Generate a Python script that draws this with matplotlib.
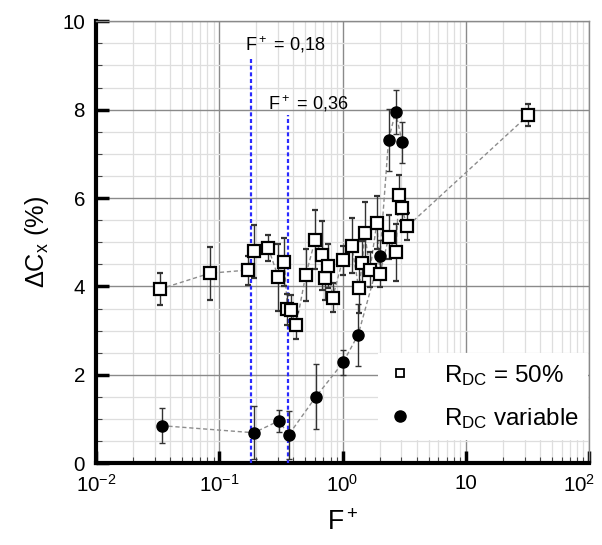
import matplotlib
matplotlib.use("Agg")
import matplotlib.pyplot as plt
import matplotlib.transforms as mtransforms
from matplotlib import font_manager as fm
from matplotlib.lines import Line2D
from matplotlib.ticker import FixedLocator, FixedFormatter, LogLocator, MultipleLocator

# the original uses a condensed Arial-like face
names = {f.name for f in fm.fontManager.ttflist}
if "Liberation Sans Narrow" in names:
    face, k = "Liberation Sans Narrow", 1.0
else:
    face, k = "Liberation Sans", 0.87

plt.rcParams["font.family"] = [face, "DejaVu Sans"]
plt.rcParams["mathtext.fontset"] = "custom"
plt.rcParams["mathtext.rm"] = face
plt.rcParams["mathtext.it"] = face + ":italic"

# ---- data ----
# R_DC = 50 % (open squares)
f_sq = [0.033, 0.084, 0.170, 0.191, 0.250, 0.301, 0.337, 0.357, 0.380, 0.420,
        0.503, 0.601, 0.677, 0.724, 0.762, 0.832, 1.00, 1.19, 1.35, 1.45,
        1.51, 1.67, 1.90, 2.01, 2.37, 2.70, 2.87, 3.02, 3.36, 32.0]
dc_sq = [3.94, 4.30, 4.37, 4.80, 4.87, 4.21, 4.55, 3.48, 3.46, 3.12,
         4.26, 5.06, 4.71, 4.19, 4.46, 3.75, 4.59, 4.92, 3.97, 4.53,
         5.22, 4.38, 5.44, 4.28, 5.11, 4.77, 6.08, 5.77, 5.36, 7.87]
err_sq = [0.37, 0.60, 0.33, 0.60, 0.30, 0.76, 0.55, 0.35, 0.35, 0.30,
          0.58, 0.66, 0.78, 0.50, 0.50, 0.33, 0.33, 0.62, 0.57, 0.50,
          0.68, 0.40, 0.60, 0.30, 0.50, 0.65, 0.45, 0.30, 0.30, 0.25]

# R_DC variable (filled circles)
f_ci = [0.034, 0.191, 0.305, 0.365, 0.610, 1.01, 1.34, 2.01, 2.36, 2.69, 3.05]
dc_ci = [0.85, 0.69, 0.96, 0.64, 1.51, 2.28, 2.91, 4.69, 7.31, 7.95, 7.26]
err_ci = [0.40, 0.60, 0.25, 0.55, 0.73, 0.28, 0.70, 0.35, 0.70, 0.50, 0.47]

f_marks = [0.18, 0.36]
f_mark_top = [9.16, 7.87]
f_mark_labels = ["F$^+$ = 0,18", "F$^+$ = 0,36"]
f_mark_label_pos = [(0.162, 9.46), (0.249, 8.14)]

xticks = [1e-2, 1e-1, 1, 10, 100]
xticklabels = ["10$^{-2}$", "10$^{-1}$", "10$^{0}$", "10", "10$^{2}$"]

fig = plt.figure(figsize=(6.02, 5.45), dpi=100)
ax = fig.add_axes([0.1595, 0.150, 0.819, 0.811])

ax.set_xscale("log")
ax.set_xlim(1e-2, 1e2)
ax.set_ylim(0, 10)

# grid
ax.xaxis.set_major_locator(FixedLocator(xticks))
ax.xaxis.set_major_formatter(FixedFormatter(xticklabels))
ax.xaxis.set_minor_locator(LogLocator(base=10, subs=range(2, 10), numticks=20))
ax.yaxis.set_major_locator(MultipleLocator(2))
ax.yaxis.set_minor_locator(MultipleLocator(0.5))
ax.grid(which="major", color="#8a8a8a", lw=1.0, zorder=0)
ax.grid(which="minor", color="#dedede", lw=0.9, zorder=0)
ax.set_axisbelow(True)

# connecting dashed lines
ax.plot(f_sq, dc_sq, ls=(0, (3, 2)), color="#8c8c8c", lw=1.0, zorder=2)
ax.plot(f_ci, dc_ci, ls=(0, (3, 2)), color="#8c8c8c", lw=1.0, zorder=2)

# markers with error bars
ax.errorbar(f_sq, dc_sq, yerr=err_sq, fmt="s", ms=8, mfc="white", mec="black",
            mew=1.6, ecolor="#333333", elinewidth=1.0, capsize=2, capthick=1.0,
            zorder=4)
ax.errorbar(f_ci, dc_ci, yerr=err_ci, fmt="o", ms=8, mfc="black", mec="black",
            ecolor="#333333", elinewidth=1.0, capsize=2, capthick=1.0, zorder=4)

# vertical F+ marks
for fx, top, lab, pos in zip(f_marks, f_mark_top, f_mark_labels, f_mark_label_pos):
    ax.plot([fx, fx], [0, top], ls=(0, (1.8, 1.2)), color="#2a2aff", lw=1.6, zorder=3)
    ax.text(pos[0], pos[1], lab, fontsize=15 * k, ha="left", va="center", zorder=5)

# spines & ticks
for side in ["left", "bottom"]:
    ax.spines[side].set_linewidth(3)
    ax.spines[side].set_color("black")
for side in ["top", "right"]:
    ax.spines[side].set_linewidth(1)
    ax.spines[side].set_color("#8a8a8a")
ax.tick_params(which="major", direction="in", length=9, width=2.5, labelsize=17 * k,
               color="black", pad=8)
ax.tick_params(which="minor", direction="in", length=4, width=0.8, color="#444444")

# keep the last x label inside the figure
last = ax.get_xticklabels()[-1]
last.set_transform(last.get_transform() +
                   mtransforms.ScaledTranslation(-7 / 72, 0, fig.dpi_scale_trans))

ax.set_xlabel("F$^+$", fontsize=22 * k, labelpad=10)
ax.set_ylabel("ΔC$_\\mathregular{x}$ (%)", fontsize=21 * k, labelpad=8)

handles = [
    Line2D([], [], marker="s", ls="none", ms=6, mfc="white", mec="black", mew=1.3),
    Line2D([], [], marker="o", ls="none", ms=8, mfc="black", mec="black"),
]
leg = ax.legend(handles, ["R$_\\mathregular{DC}$ = 50%", "R$_\\mathregular{DC}$ variable"],
                loc="lower right", fontsize=20 * k, frameon=True, fancybox=False,
                handlelength=1.0, handletextpad=1.3, labelspacing=0.75,
                borderpad=0.4, borderaxespad=0.0, bbox_to_anchor=(0.998, 0.052))
leg.get_frame().set_edgecolor("none")
leg.get_frame().set_facecolor("white")
leg.get_frame().set_alpha(1.0)
leg.set_zorder(6)

fig.savefig("out.png", dpi=100)
